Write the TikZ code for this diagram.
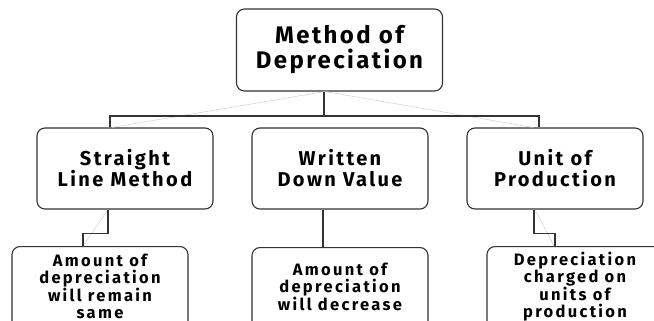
\documentclass[tikz,border=0pt]{standalone}
\usepackage{fontspec}
\setmainfont{Fira Sans}
\newcommand{\trackedfont}[3]{\bfseries\fontsize{#1}{#2}\selectfont\addfontfeatures{LetterSpace=#3}}
\begin{document}
\begin{tikzpicture}[x=1pt,y=-1pt,
  box/.style={draw=black!80, line width=1.1pt, rounded corners=8pt, inner sep=0pt, align=center},
  topbox/.style={box, minimum width=206pt, minimum height=82pt, font=\trackedfont{24}{25}{10}},
  midbox/.style={box, minimum width=176pt, minimum height=81pt, font=\trackedfont{20}{21}{12}},
  lowbox/.style={box, minimum width=176pt, minimum height=110pt, anchor=north},
  lowtext/.style={align=center, inner sep=0pt, font=\trackedfont{16.5}{17}{14}},
  link/.style={draw=black!80, line width=1.1pt},
  ghost/.style={draw=black!18, line width=0.5pt}]
\useasboundingbox (0,0) rectangle (654,321);
\clip (0,0) rectangle (654,321);

% top level
\node[topbox] (top) at (339.5,50) {Method of\\Depreciation};

% methods
\node[midbox] (slm) at (125,168.5) {Straight\\Line Method};
\node[midbox] (wdv) at (340,168.5) {Written\\Down Value};
\node[midbox] (uop) at (555,168.5) {Unit of\\Production};

% descriptions (boxes run past the lower edge)
\node[lowbox] (d1) at (100,246) {};
\node[lowbox] (d2) at (340,247) {};
\node[lowbox] (d3) at (575,246) {};
\node[lowtext] (t1) at (100,286) {Amount of\\depreciation\\will remain\\same};
\node[lowtext] (t2) at (340,287) {Amount of\\depreciation\\will decrease};
\node[lowtext] (t3) at (575,287) {Depreciation\\charged on\\units of\\production};

% faint straight guides
\draw[ghost] ([xshift=-14.5pt]top.south) -- ([xshift=-13pt]slm.north);
\draw[ghost] ([xshift=-14.5pt]top.south) -- ([xshift=-22pt]uop.north);
\draw[ghost] ([xshift=-17pt]slm.south) -- ([xshift=-17pt]d1.north);
\draw[ghost] ([xshift=-20pt]uop.south) -- ([xshift=-21pt]d3.north);

% elbow connectors
\coordinate (bus) at (0,116);
\draw[link] ([xshift=-15.5pt]top.south) -- ([xshift=-15.5pt]top.south |- bus);
\draw[link] ([xshift=-15pt]slm.north) -- ([xshift=-15pt]slm.north |- bus) -- ([xshift=-16pt]uop.north |- bus) -- ([xshift=-16pt]uop.north);
\draw[link] ([xshift=-17pt]slm.south) -- ++(0,24) -| ([xshift=-17pt]d1.north);
\draw[link] ([xshift=-17pt]wdv.south) -- ([xshift=-17pt]wdv.south |- d2.north);
\draw[link] ([xshift=-21pt]uop.south) -- ++(0,24) -| ([xshift=-20pt]d3.north);
\end{tikzpicture}
\end{document}
